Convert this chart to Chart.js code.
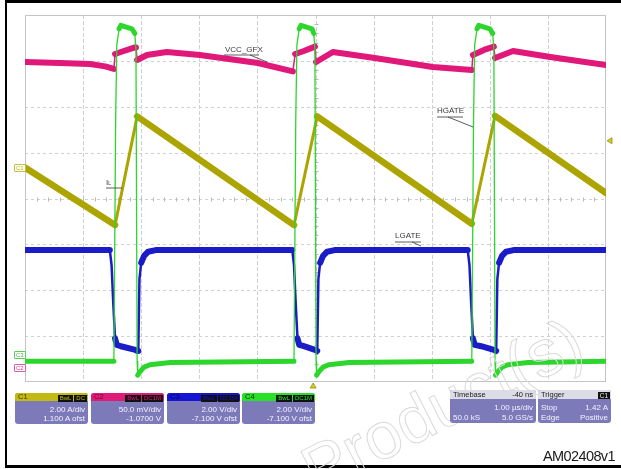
<!DOCTYPE html>
<html>
<head>
<meta charset="utf-8">
<script src="https://cdn.jsdelivr.net/npm/chart.js@4.4.1/dist/chart.umd.min.js"></script>
<style>
body { margin: 0; background: #fff; }
#wrap { position: relative; width: 621px; height: 469px; overflow: hidden; font-family: "Liberation Sans", Arial, sans-serif; }
#frame { position: absolute; left: 5px; top: 0; width: 616px; height: 468px; box-sizing: border-box;
  border-top: 3px solid #000; border-left: 2px solid #000; border-bottom: 3px solid #000; }
canvas { position: absolute; left: 0; top: 0; }
.lbl { position: absolute; font-size: 8px; line-height: 8px; color: #3a3a3a; white-space: nowrap; }
.mk { position: absolute; font-size: 6px; line-height: 6px; padding: 0 1px; border: 1px solid; border-radius: 1px; }
.box { position: absolute; top: 393px; height: 31px; border-radius: 3px; background: #7d7aba; overflow: hidden;
  color: #f2f2ff; font-size: 8px; }
.hd { position: absolute; left: 0; right: 0; top: 0; height: 8px; line-height: 8px; font-size: 7.5px; }
.hd .id { position: absolute; left: 3px; top: 0; }
.hd .tags { position: absolute; right: 1px; top: 1px; }
.tag { display: inline-block; background: #111; height: 7px; line-height: 7px; font-size: 6px; padding: 0 2px; margin-left: 1px; }
.ln { position: absolute; left: 3px; right: 3px; height: 9px; line-height: 9px; text-align: right; white-space: nowrap; }
.ln .l { position: absolute; left: 0; }
#am { position: absolute; left: 543px; top: 448px; font-size: 14.5px; color: #1a1a1a; letter-spacing: -0.6px; }
#wm { position: absolute; left: 289px; top: 440px; font-size: 66px; color: transparent; -webkit-text-stroke: 1px #dadada;
  transform-origin: 0 0; transform: rotate(-27deg); white-space: nowrap; }
</style>
</head>
<body>
<div id="wrap">
  <canvas id="scope" width="621" height="469"></canvas>
  <div id="frame"></div>
  <div id="wm">Product(s)</div>
  <div class="lbl" style="left:225px;top:46px">VCC_GFX</div>
  <div class="lbl" style="left:437px;top:107px">HGATE</div>
  <div class="lbl" style="left:395px;top:232px">LGATE</div>
  <div class="lbl" style="left:106px;top:179px">I<span style="font-size:5px">L</span></div>
  <div class="mk" style="left:14px;top:164px;color:#b8b020;border-color:#c8c040">C1</div>
  <div class="mk" style="left:14px;top:351px;color:#3cb83c;border-color:#5ccc5c">C3</div>
  <div class="mk" style="left:14px;top:364px;color:#d0409a;border-color:#d860a8">C2</div>
  <div id="boxes"></div>
  <div id="am">AM02408v1</div>
</div>
<script>
// time axis in µs, 1.00 µs/div, 10 divisions
const timeMin = 0;
const timeMax = 10;
const triggerTime = 4.96;
const triggerLevel = 1.42;

// channel readouts
const chanName = ['C1', 'C2', 'C3', 'C4'];
const chanPerDiv = [2.0, 0.05, 2.0, 2.0];
const chanOffset = [1.1, -1.07, -7.1, -7.1];
const chanDivText = ['2.00 A/div', '50.0 mV/div', '2.00 V/div', '2.00 V/div'];
const chanOfstText = ['1.100 A ofst', '-1.0700 V', '-7.100 V ofst', '-7.100 V ofst'];
const chanCoupling = ['DC', 'DC1M', 'DC1M', 'DC1M'];
const chanColor = ['#aca400', '#e0187a', '#1b1bc8', '#2cd62c'];
const chanHeader = ['#c2ba12', '#e01a78', '#1414d2', '#28e028'];
const chanIdColor = ['#3c3a00', '#6a0030', '#000060', '#004400'];

// C1: inductor current IL (A)
const ilTime = [0, 1.55, 1.93, 4.63, 5.03, 7.69, 8.09, 10];
const ilAmp = [0.25, -2.26, 2.48, -2.26, 2.48, -2.2, 2.5, -0.86];

// C2: VCC_GFX (V)
const vccTime = [0, 0.60, 1.12, 1.38, 1.53, 1.55, 1.70, 1.88, 1.91, 1.93, 2.10, 2.44, 3.01, 4.01, 4.61,
  4.65, 4.80, 4.99, 5.01, 5.30, 6.02, 7.02, 7.69,
  7.71, 7.90, 8.07, 8.09, 8.40, 9.04, 10];
const vccVolt = [1.2188, 1.2177, 1.2166, 1.2140, 1.2112, 1.2275, 1.2308, 1.2345, 1.2345, 1.2210, 1.2264, 1.2297, 1.2264, 1.2177, 1.2085,
  1.2275, 1.2308, 1.2355, 1.2188, 1.2297, 1.2232, 1.2133, 1.2101,
  1.2264, 1.2319, 1.2355, 1.2232, 1.2308, 1.2242, 1.2155];

// C3: LGATE (V)
const lgTime = [0, 1.46, 1.49, 1.52, 1.55, 1.58, 1.65, 1.90, 1.93, 1.95, 1.97, 2.00, 2.05, 2.12, 2.25,
  4.60, 4.63, 4.66, 4.69, 4.72, 4.80, 4.99, 5.03, 5.05, 5.08, 5.13, 5.20, 5.33,
  7.62, 7.65, 7.68, 7.71, 7.74, 7.85, 8.07, 8.11, 8.13, 8.16, 8.21, 8.28, 8.41, 10];
const lgVolt = [4.85, 4.85, 4.2, 2.5, 1.0, 0.72, 0.66, 0.5, 0.45, 0.45, 3.6, 4.3, 4.6, 4.78, 4.85,
  4.85, 4.2, 2.5, 1.0, 0.72, 0.66, 0.5, 0.45, 3.6, 4.3, 4.6, 4.78, 4.85,
  4.85, 4.2, 2.5, 1.0, 0.72, 0.66, 0.5, 0.45, 3.6, 4.3, 4.6, 4.78, 4.85, 4.85];

// C4: HGATE (V)
const hgTime = [0, 1.53, 1.56, 1.58, 1.62, 1.65, 1.84, 1.89, 1.91, 1.93, 1.94, 1.98, 2.05, 2.15, 2.50,
  4.63, 4.66, 4.68, 4.72, 4.75, 4.94, 4.97, 4.99, 5.01, 5.02, 5.06, 5.13, 5.23, 5.58,
  7.69, 7.72, 7.74, 7.78, 7.81, 8.00, 8.05, 8.07, 8.09, 8.10, 8.14, 8.21, 8.31, 8.66, 10];
const hgVolt = [0, 0, 10.5, 13.8, 14.5, 14.65, 14.5, 14.3, 13.6, 0, -0.6, -0.45, -0.25, -0.15, -0.05,
  0, 10.5, 13.8, 14.5, 14.65, 14.5, 14.3, 13.6, 0, -0.6, -0.45, -0.25, -0.15, -0.05,
  0, 10.5, 13.8, 14.5, 14.65, 14.5, 14.3, 13.6, 0, -0.6, -0.45, -0.25, -0.15, -0.05, 0];

function pts(t, v) {
  return t.map((x, i) => ({ x: x, y: v[i] }));
}

// steep edges are drawn thinner than the noisy flat parts
function edgeWidth(thick, thin) {
  return ctx => {
    var dx = Math.abs(ctx.p1.x - ctx.p0.x);
    var dy = Math.abs(ctx.p1.y - ctx.p0.y);
    return dy > 3 * dx + 4 ? thin : thick;
  };
}

function chanScale(i) {
  var center = -chanOffset[i];
  return { type: 'linear', axis: 'y', display: false,
    min: center - 4 * chanPerDiv[i], max: center + 4 * chanPerDiv[i] };
}

function line(ctx, x0, y0, x1, y1) {
  ctx.beginPath(); ctx.moveTo(x0, y0); ctx.lineTo(x1, y1); ctx.stroke();
}

const scopeGrid = {
  id: 'scopeGrid',
  beforeDatasetsDraw(chart) {
    var ctx = chart.ctx, a = chart.chartArea, x = chart.scales.x, d = chart.scales.yDiv;
    ctx.save();
    ctx.lineWidth = 1;
    ctx.strokeStyle = '#d0d0d0';
    ctx.setLineDash([4, 2]);
    for (var i = timeMin + 1; i < timeMax; i++) {
      var px = Math.round(x.getPixelForValue(i)) + 0.5;
      line(ctx, px, a.top, px, a.bottom);
    }
    ctx.setLineDash([3, 3]);
    for (var j = -3; j <= 3; j++) {
      var py = Math.round(d.getPixelForValue(j)) + 0.5;
      line(ctx, a.left, py, a.right, py);
    }
    ctx.setLineDash([]);
    ctx.strokeStyle = '#b8b8b8';
    var cx = Math.round(x.getPixelForValue(5)) + 0.5, cy = Math.round(d.getPixelForValue(0)) + 0.5;
    for (var k = 1; k < 50; k++) {
      var tx = Math.round(x.getPixelForValue(k * 0.2)) + 0.5;
      line(ctx, tx, cy - 2, tx, cy + 2);
    }
    for (var m = 1; m < 40; m++) {
      var ty = Math.round(d.getPixelForValue(-4 + m * 0.2)) + 0.5;
      line(ctx, cx - 2, ty, cx + 2, ty);
    }
    ctx.strokeStyle = '#c4c4c4';
    ctx.strokeRect(a.left + 0.5, a.top + 0.5, a.width - 1, a.height - 1);
    ctx.restore();
  },
  afterDatasetsDraw(chart) {
    var ctx = chart.ctx, a = chart.chartArea;
    ctx.save();
    // label leader lines
    ctx.strokeStyle = '#333';
    ctx.lineWidth = 0.8;
    line(ctx, 224, 55, 259, 55); line(ctx, 250, 55, 267, 62);
    line(ctx, 437, 117, 463, 117); line(ctx, 448, 117, 473, 127);
    line(ctx, 106, 188, 122, 188);
    line(ctx, 395, 242, 421, 242); line(ctx, 412, 242, 421, 246);
    // trigger markers
    var tx = chart.scales.x.getPixelForValue(triggerTime);
    var ty = chart.scales.yC1.getPixelForValue(triggerLevel);
    ctx.fillStyle = '#d6cc20';
    ctx.strokeStyle = '#8a8400';
    ctx.lineWidth = 0.7;
    ctx.beginPath(); ctx.moveTo(tx, a.bottom + 1); ctx.lineTo(tx - 3, a.bottom + 6); ctx.lineTo(tx + 3, a.bottom + 6); ctx.closePath();
    ctx.fill(); ctx.stroke();
    ctx.beginPath(); ctx.moveTo(a.right + 1, ty); ctx.lineTo(a.right + 6, ty - 3); ctx.lineTo(a.right + 6, ty + 3); ctx.closePath();
    ctx.fill(); ctx.stroke();
    ctx.restore();
  }
};

new Chart(document.getElementById('scope'), {
  type: 'line',
  data: {
    datasets: [
      { label: 'HGATE', data: pts(hgTime, hgVolt), yAxisID: 'yC4', order: 1,
        borderColor: chanColor[3], borderWidth: 5, segment: { borderWidth: edgeWidth(5, 1.3) } },
      { label: 'LGATE', data: pts(lgTime, lgVolt), yAxisID: 'yC3', order: 2,
        borderColor: chanColor[2], borderWidth: 6, segment: { borderWidth: edgeWidth(6, 2.5) } },
      { label: 'VCC_GFX', data: pts(vccTime, vccVolt), yAxisID: 'yC2', order: 3,
        borderColor: chanColor[1], borderWidth: 6, segment: { borderWidth: edgeWidth(6, 1.5) } },
      { label: 'IL', data: pts(ilTime, ilAmp), yAxisID: 'yC1', order: 4,
        borderColor: chanColor[0], borderWidth: 6.5, segment: { borderWidth: edgeWidth(6.5, 3) } }
    ]
  },
  options: {
    responsive: false,
    animation: false,
    devicePixelRatio: 1,
    layout: { padding: { left: 25, top: 15, right: 15, bottom: 87 } },
    elements: { point: { radius: 0 }, line: { tension: 0, borderJoinStyle: 'round', borderCapStyle: 'round' } },
    plugins: { legend: { display: false }, tooltip: { enabled: false } },
    scales: {
      x: { type: 'linear', display: false, min: timeMin, max: timeMax },
      yDiv: { type: 'linear', axis: 'y', display: false, min: -4, max: 4 },
      yC1: chanScale(0),
      yC2: chanScale(1),
      yC3: chanScale(2),
      yC4: chanScale(3)
    }
  },
  plugins: [scopeGrid]
});

// readout boxes
var boxes = document.getElementById('boxes');
var boxLeft = [15, 91, 167, 242];
chanName.forEach(function (name, i) {
  var b = document.createElement('div');
  b.className = 'box';
  b.style.left = boxLeft[i] + 'px';
  b.style.width = '73px';
  b.innerHTML = '<div class="hd" style="background:' + chanHeader[i] + '">' +
    '<span class="id" style="color:' + chanIdColor[i] + '">' + name + '</span>' +
    '<span class="tags"><span class="tag" style="color:' + chanHeader[i] + '">BwL</span>' +
    '<span class="tag" style="color:' + chanHeader[i] + '">' + chanCoupling[i] + '</span></span></div>' +
    '<div class="ln" style="top:12px">' + chanDivText[i] + '</div>' +
    '<div class="ln" style="top:21px">' + chanOfstText[i] + '</div>';
  boxes.appendChild(b);
});
var tb = document.createElement('div');
tb.className = 'box';
tb.style.cssText = 'left:450px;width:86px;top:390px;height:33px';
tb.innerHTML = '<div class="hd" style="background:#dcdce6;color:#222;height:9px;line-height:9px">' +
  '<span class="id">Timebase</span><span style="position:absolute;right:3px">-40 ns</span></div>' +
  '<div class="ln" style="top:13px">1.00 µs/div</div>' +
  '<div class="ln" style="top:23px"><span class="l">50.0 kS</span>5.0 GS/s</div>';
boxes.appendChild(tb);
var tr = document.createElement('div');
tr.className = 'box';
tr.style.cssText = 'left:538px;width:73px;top:390px;height:33px';
tr.innerHTML = '<div class="hd" style="background:#dcdce6;color:#222;height:9px;line-height:9px">' +
  '<span class="id">Trigger</span><span class="tags"><span class="tag" style="color:#eee;font-size:6.5px">C1</span></span></div>' +
  '<div class="ln" style="top:13px"><span class="l">Stop</span>' + triggerLevel.toFixed(2) + ' A</div>' +
  '<div class="ln" style="top:23px"><span class="l">Edge</span>Positive</div>';
boxes.appendChild(tr);
</script>
</body>
</html>
